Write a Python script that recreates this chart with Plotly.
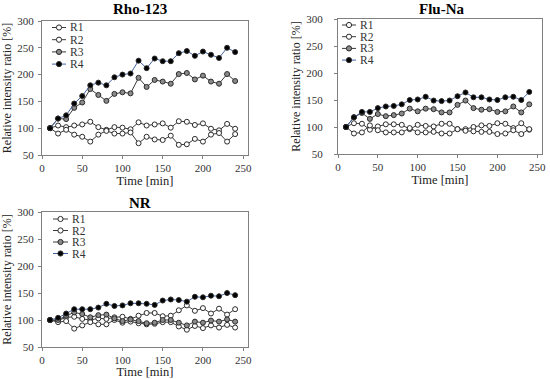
import plotly.graph_objects as go

time = [10, 20, 30, 40, 50, 60, 70, 80, 90, 100, 110, 120, 130, 140, 150, 160, 170, 180, 190, 200, 210, 220, 230, 240]

rho_r1 = [100, 105, 102, 105, 107, 112, 102, 97, 102, 101, 98, 111, 105, 107, 109, 101, 113, 112, 106, 109, 99, 96, 108, 99]
rho_r2 = [100, 90, 97, 88, 84, 75, 88, 95, 90, 90, 92, 72, 84, 79, 78, 86, 69, 70, 80, 75, 88, 91, 75, 89]
rho_r3 = [100, 118, 117, 138, 148, 173, 162, 151, 164, 167, 165, 194, 177, 190, 187, 183, 201, 203, 191, 198, 187, 183, 201, 188]
rho_r4 = [100, 118, 124, 146, 160, 180, 185, 180, 195, 200, 202, 226, 212, 230, 225, 225, 240, 244, 235, 243, 237, 231, 250, 242]

flu_r1 = [100, 107, 106, 95, 101, 105, 105, 104, 96, 104, 102, 101, 106, 106, 96, 96, 100, 103, 102, 107, 106, 98, 107, 95]
flu_r2 = [100, 88, 90, 103, 94, 90, 90, 90, 98, 90, 90, 91, 88, 88, 96, 93, 92, 91, 91, 87, 88, 94, 87, 96]
flu_r3 = [100, 118, 126, 115, 124, 120, 122, 125, 134, 129, 134, 133, 127, 127, 141, 149, 135, 132, 133, 128, 129, 138, 127, 142]
flu_r4 = [100, 118, 128, 128, 135, 138, 139, 142, 150, 151, 156, 149, 148, 149, 157, 164, 155, 155, 151, 150, 155, 156, 150, 165]

nr_r1 = [100, 99, 105, 106, 102, 100, 103, 102, 105, 106, 102, 108, 113, 113, 107, 108, 118, 127, 117, 122, 112, 121, 110, 120]
nr_r2 = [100, 96, 98, 84, 90, 96, 92, 92, 100, 95, 97, 94, 92, 93, 96, 96, 88, 82, 89, 85, 90, 86, 91, 86]
nr_r3 = [100, 100, 108, 114, 111, 105, 109, 110, 103, 98, 101, 98, 94, 95, 100, 100, 95, 90, 97, 95, 99, 97, 101, 97]
nr_r4 = [100, 104, 112, 120, 120, 120, 123, 130, 126, 127, 131, 131, 130, 128, 136, 138, 137, 134, 143, 142, 145, 144, 150, 146]

series_names = ["R1", "R2", "R3", "R4"]
panel_titles = ["Rho-123", "Flu-Na", "NR"]
x_ticks = [0, 50, 100, 150, 200, 250]
y_ticks = [50, 100, 150, 200, 250, 300]

panels = [
    [rho_r1, rho_r2, rho_r3, rho_r4],
    [flu_r1, flu_r2, flu_r3, flu_r4],
    [nr_r1, nr_r2, nr_r3, nr_r4],
]

LINE_COLORS = ["#3a3a3a", "#3a3a3a", "#3a3a3a", "#4463a3"]
FILL_COLORS = ["white", "white", "#8a8a8a", "black"]
EDGE = "#2a2a2a"
FONT = "Liberation Serif, Times New Roman, serif"
W, H = 550, 379


def px_x(v):
    return v / W


def px_y(v):
    return 1 - v / H


fig = go.Figure()
for p, data in enumerate(panels):
    suffix = "" if p == 0 else str(p + 1)
    for i, vals in enumerate(data):
        fig.add_trace(go.Scatter(
            x=time, y=vals, name=series_names[i], mode="lines+markers",
            xaxis="x" + suffix, yaxis="y" + suffix, showlegend=False,
            line=dict(color=LINE_COLORS[i], width=1),
            marker=dict(symbol="circle", size=5, color=FILL_COLORS[i],
                        line=dict(color=EDGE, width=1)),
        ))

# panel boxes in pixels: left, right, top, bottom
boxes = [(42, 248, 21, 155), (338, 542, 19, 154), (42, 248, 212, 347)]
ytitle_standoff = [12, 3, 12]
ylabel_standoff = [2, 9, 2]
# legend layout in pixels: line x0, x1, text x, first row y, row step
legend_px = [(52, 66, 68, 27.5, 12.2), (342, 356, 358, 25, 11.7), (53, 68, 70, 219, 11.5)]
title_px = [(140, 9), (442, 9), (140, 203)]

layout = dict(
    width=W, height=H, paper_bgcolor="white", plot_bgcolor="white",
    margin=dict(l=0, r=0, t=0, b=0, autoexpand=False),
    font=dict(family=FONT, color="#222222", size=11),
    showlegend=False,
)

shapes = []
annotations = []
for p, (l, r, t, b) in enumerate(boxes):
    suffix = "" if p == 0 else str(p + 1)
    common = dict(showgrid=False, zeroline=False, showline=True, mirror=True,
                  linecolor="#808080", linewidth=1, ticks="outside", ticklen=3,
                  tickcolor="#808080", automargin=False,
                  tickfont=dict(size=11, family=FONT, color="#333333"))
    layout["xaxis" + suffix] = dict(
        domain=[px_x(l), px_x(r)], anchor="y" + suffix, range=[0, 256], tickvals=x_ticks,
        title=dict(text="Time [min]", font=dict(size=12.5, family=FONT), standoff=1),
        **common)
    layout["yaxis" + suffix] = dict(
        domain=[px_y(b), px_y(t)], anchor="x" + suffix, range=[50, 300], tickvals=y_ticks,
        ticklabelstandoff=ylabel_standoff[p],
        title=dict(text="Relative intensity ratio [%]", font=dict(size=12, family=FONT),
                   standoff=ytitle_standoff[p]),
        **common)

    # legend keys
    lx0, lx1, tx, y0, dy = legend_px[p]
    for i, name in enumerate(series_names):
        yy = y0 + i * dy
        shapes.append(dict(type="line", xref="paper", yref="paper",
                           x0=px_x(lx0), x1=px_x(lx1), y0=px_y(yy), y1=px_y(yy),
                           line=dict(color=LINE_COLORS[i], width=1)))
        cx = (lx0 + lx1) / 2
        rr = 2.6
        shapes.append(dict(type="circle", xref="paper", yref="paper",
                           x0=px_x(cx - rr), x1=px_x(cx + rr), y0=px_y(yy + rr), y1=px_y(yy - rr),
                           fillcolor=FILL_COLORS[i], line=dict(color=EDGE, width=1)))
        annotations.append(dict(text=name, x=px_x(tx), y=px_y(yy), xref="paper", yref="paper",
                                showarrow=False, xanchor="left", yanchor="middle",
                                font=dict(size=11.5, family=FONT, color="#333333")))

for t, (x, y) in zip(panel_titles, title_px):
    annotations.append(dict(text="<b>" + t + "</b>", x=px_x(x), y=px_y(y), xref="paper", yref="paper",
                            showarrow=False, font=dict(size=15, family=FONT, color="black"),
                            xanchor="center", yanchor="middle"))

layout["shapes"] = shapes
layout["annotations"] = annotations

fig.update_layout(**layout)
fig.write_html(
    "out.html",
    config={"displayModeBar": False},
    post_script="document.body.style.margin='0';document.body.style.padding='0';"
                "document.body.style.overflow='hidden';",
)
